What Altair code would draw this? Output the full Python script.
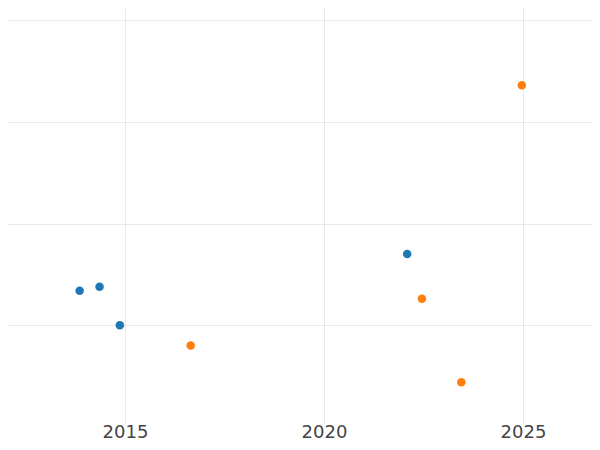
import altair as alt
import pandas as pd

# Data
series = ["A", "A", "A", "A", "B", "B", "B", "B"]
years = [2013.86, 2014.36, 2014.87, 2022.09, 2016.65, 2022.46, 2023.45, 2024.97]
values = [13.4, 13.8, 10.0, 17.0, 8.0, 12.6, 4.4, 33.6]

x_ticks = [2015, 2020, 2025]
y_ticks = [10, 20, 30, 40]
colors = ["#1f77b4", "#ff7f0e"]

df = pd.DataFrame({"series": series, "year": years, "value": values})

chart = (
    alt.Chart(df)
    .mark_circle(size=72, opacity=1)
    .encode(
        x=alt.X(
            "year:Q",
            scale=alt.Scale(domain=[2012.06, 2026.733], nice=False, zero=False),
            axis=alt.Axis(
                values=x_ticks, format="d", title=None, domain=False, ticks=False,
                labelFontSize=18, labelColor="#444444", labelFont="DejaVu Sans",
                labelPadding=0, gridColor="#e8e8e8", gridWidth=1,
            ),
        ),
        y=alt.Y(
            "value:Q",
            scale=alt.Scale(domain=[0.39, 41.2], nice=False),
            axis=alt.Axis(
                values=y_ticks, title=None, domain=False, ticks=False, labels=False,
                gridColor="#e8e8e8", gridWidth=1,
            ),
        ),
        color=alt.Color("series:N", scale=alt.Scale(domain=["A", "B"], range=colors), legend=None),
    )
    .properties(
        width=584,
        height=415,
        autosize=alt.AutoSizeParams(type="none"),
        padding={"left": 0, "top": 0, "right": 0, "bottom": 19},
    )
    .configure_view(stroke=None)
)

chart.save("out.html", embed_options={"renderer": "svg", "actions": False})
